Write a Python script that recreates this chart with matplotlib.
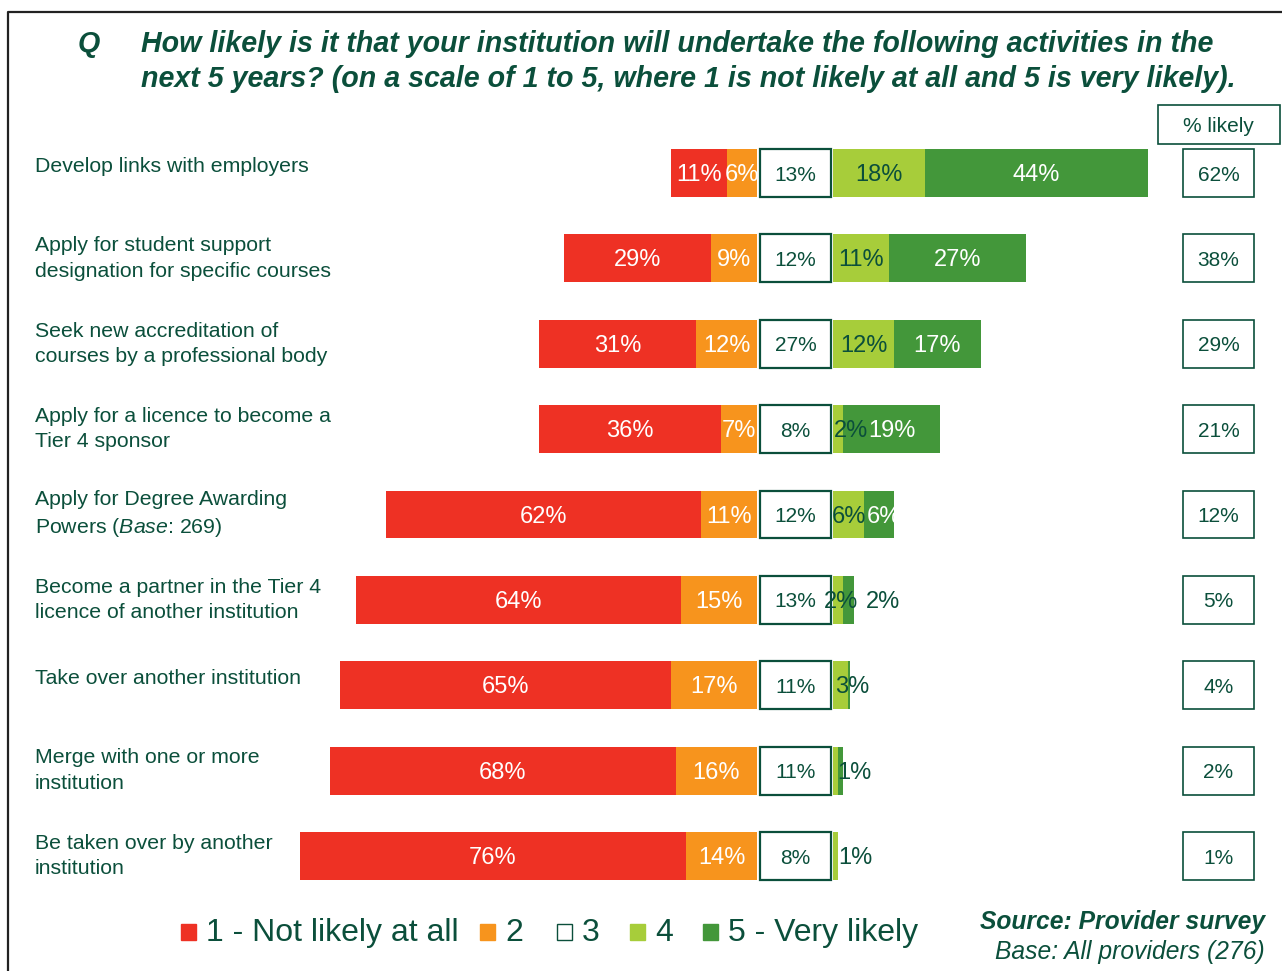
import matplotlib
matplotlib.use("Agg")
import matplotlib.pyplot as plt
from matplotlib.patches import Rectangle
from matplotlib.lines import Line2D
from matplotlib import transforms

# survey answers, % of providers for each point on the scale
activities = [
    "Develop links with employers",
    "Apply for student support\ndesignation for specific courses",
    "Seek new accreditation of\ncourses by a professional body",
    "Apply for a licence to become a\nTier 4 sponsor",
    "Apply for Degree Awarding\nPowers ($\\mathit{Base}$: $\\mathit{269}$)",
    "Become a partner in the Tier 4\nlicence of another institution",
    "Take over another institution",
    "Merge with one or more\ninstitution",
    "Be taken over by another\ninstitution",
]
score_1 = [11, 29, 31, 36, 62, 64, 65, 68, 76]
score_2 = [6, 9, 12, 7, 11, 15, 17, 16, 14]
score_3 = [13, 12, 27, 8, 12, 13, 11, 11, 8]
score_4 = [18, 11, 12, 2, 6, 2, 3, 1, 1]
score_5 = [44, 27, 17, 19, 6, 2, 0.4, 1, 0]
pct_likely = [62, 38, 29, 21, 12, 5, 4, 2, 1]
legend_labels = ["1 - Not likely at all", "2", "3", "4", "5 - Very likely"]

RED = "#EE3124"
ORANGE = "#F7941D"
LGREEN = "#A7CD3A"
DGREEN = "#43973A"
TXT = "#0B4F3B"
seg_colors = [RED, ORANGE, "white", LGREEN, DGREEN]

W, H = 1282, 971
PX = 5.08            # pixels per percentage point
ZERO = 757           # pixel column where the negative side ends
ROW0, ROWSTEP = 173, 85.375
BAR_H = 0.56
NEU_L, NEU_R = 0.6, 14.6   # fixed-width box for the neutral answer
POS0 = 15.0
TY = 2 / ROWSTEP     # small downward nudge for text inside the rows

# label nudges for the tiny segments on the right hand side
label_dx = {(3, 3): 2.6, (4, 4): 1.0, (5, 3): 0.6, (5, 4): 6.9, (6, 3): 2.3,
            (7, 3): 3.6, (8, 3): 3.8}
label_hide = {(7, 4)}

plt.rcParams["font.family"] = ["Liberation Sans", "DejaVu Sans"]
plt.rcParams["mathtext.fontset"] = "custom"
plt.rcParams["mathtext.it"] = "Liberation Sans:italic"
plt.rcParams["mathtext.rm"] = "Liberation Sans"


def fx(px):
    return px / W


def fy(py):
    return 1 - py / H


fig = plt.figure(figsize=(W / 100, H / 100), dpi=100)
ax = fig.add_axes([0, 0, 1, 1])
ax.set_xlim(-ZERO / PX, (W - ZERO) / PX)
ax.set_ylim((H - ROW0) / ROWSTEP, -ROW0 / ROWSTEP)
ax.axis("off")

lbl_trans = transforms.blended_transform_factory(fig.transFigure, ax.transData)

for i, name in enumerate(activities):
    v1, v2, v3, v4, v5 = score_1[i], score_2[i], score_3[i], score_4[i], score_5[i]
    # negative side grows leftwards from zero
    ax.barh(i, v1, left=-(v1 + v2), height=BAR_H, color=RED, lw=0)
    ax.barh(i, v2, left=-v2, height=BAR_H, color=ORANGE, lw=0)
    # positive side starts after the neutral box
    ax.barh(i, v4, left=POS0, height=BAR_H, color=LGREEN, lw=0)
    ax.barh(i, v5, left=POS0 + v4, height=BAR_H, color=DGREEN, lw=0)
    ax.add_patch(Rectangle((NEU_L, i - BAR_H / 2), NEU_R - NEU_L, BAR_H,
                           facecolor="white", edgecolor=TXT, lw=1.6))

    centers = [-(v1 + v2) + v1 / 2, -v2 / 2, (NEU_L + NEU_R) / 2,
               POS0 + v4 / 2, POS0 + v4 + v5 / 2]
    vals = [v1, v2, v3, v4, v5]
    for k in range(5):
        if vals[k] < 1 or (i, k) in label_hide:
            continue
        dx = label_dx.get((i, k), 0)
        if k == 2:
            col, size = TXT, 15
        elif k == 3 or (dx and vals[k] < 5):
            col, size = TXT, 17
        else:
            col, size = "white", 17
        ax.text(centers[k] + dx, i + TY, "%d%%" % vals[k], ha="center",
                va="center", color=col, fontsize=size)

    # % likely column
    ax.add_patch(Rectangle(((1183 - ZERO) / PX, i - BAR_H / 2), 71 / PX, BAR_H,
                           facecolor="white", edgecolor=TXT, lw=1.2))
    ax.text((1218.5 - ZERO) / PX, i + TY, "%d%%" % pct_likely[i], ha="center",
            va="center", color=TXT, fontsize=15)

    ax.text(fx(35), i - (0.08 if "\n" not in name else 0), name,
            transform=lbl_trans, ha="left", va="center", color=TXT,
            fontsize=15.3, linespacing=1.42)

# header of the % likely column
ax.add_patch(Rectangle(((1158 - ZERO) / PX, (105 - ROW0) / ROWSTEP), 122 / PX,
                       39 / ROWSTEP, facecolor="white", edgecolor=TXT, lw=1.2))
fig.text(fx(1218), fy(126), "% likely", ha="center", va="center", color=TXT,
         fontsize=15)

# question
title_kw = dict(ha="left", va="center", color=TXT, fontsize=20.6,
                fontweight="bold", fontstyle="italic")
fig.text(fx(78), fy(44), "Q", **title_kw)
fig.text(fx(141), fy(44), "How likely is it that your institution will "
         "undertake the following activities in the", **title_kw)
fig.text(fx(141), fy(79), "next 5 years? (on a scale of 1 to 5, where 1 is "
         "not likely at all and 5 is very likely).", **title_kw)

# legend
leg_x = [181, 480, 557, 630, 703]
for x0, lab, c in zip(leg_x, legend_labels, seg_colors):
    fig.patches.append(Rectangle((fx(x0), fy(940)), fx(15), 16 / H,
                                 transform=fig.transFigure, facecolor=c,
                                 edgecolor=TXT if c == "white" else c, lw=1.0))
    fig.text(fx(x0 + 25), fy(933), lab, ha="left", va="center", color=TXT,
             fontsize=23)

fig.text(fx(1265), fy(922), "Source: Provider survey", ha="right",
         va="center", color=TXT, fontsize=17.7, fontweight="bold",
         fontstyle="italic")
fig.text(fx(1265), fy(952), "Base: All providers (276)", ha="right",
         va="center", color=TXT, fontsize=17.7, fontstyle="italic")

# outer frame
fig.lines.append(Line2D([fx(8), fx(8), fx(1282)], [0, fy(12), fy(12)],
                        transform=fig.transFigure, color="#222222", lw=1.6))

fig.savefig("out.png", dpi=100)
